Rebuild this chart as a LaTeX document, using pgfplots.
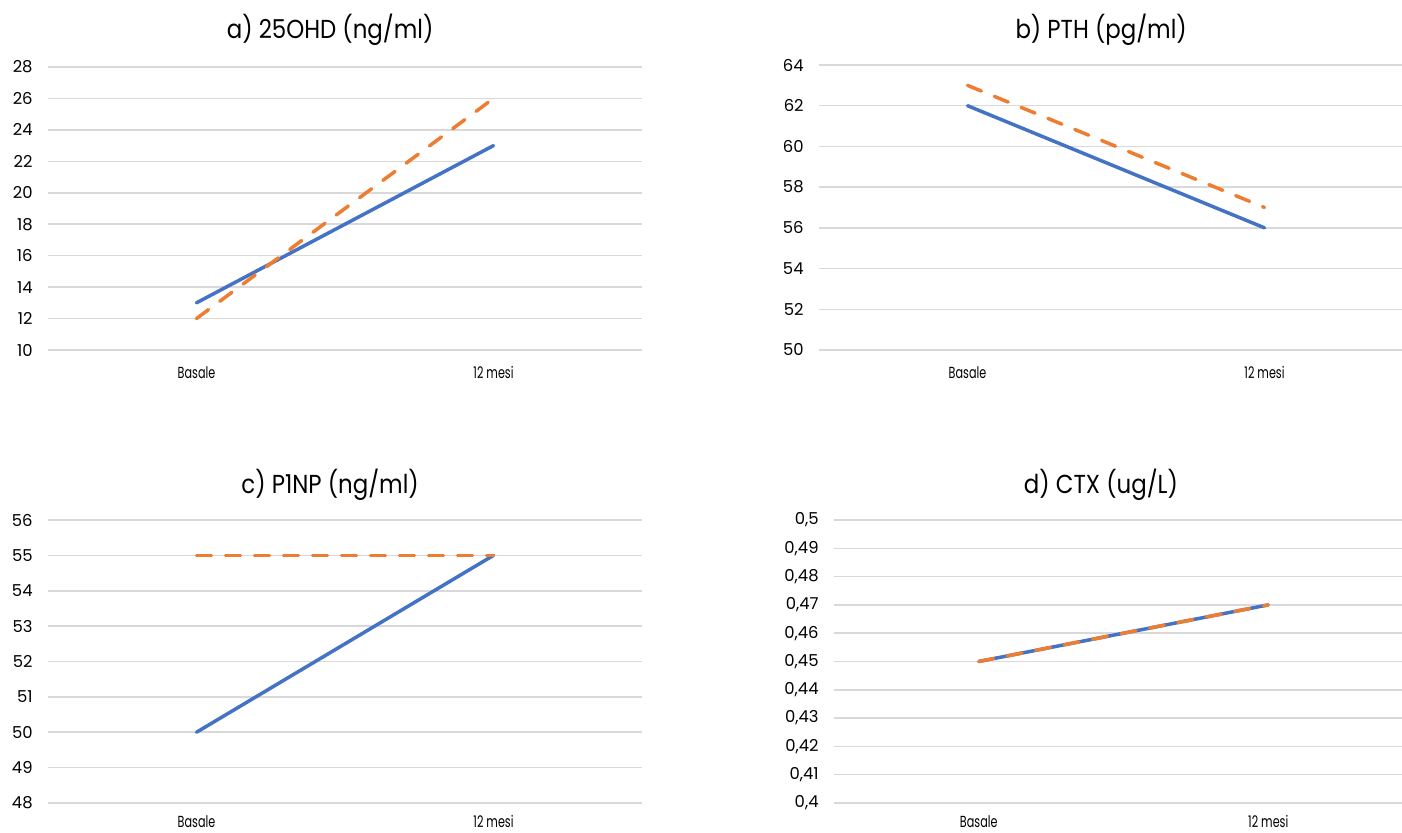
\documentclass[border=0pt]{standalone}
\usepackage{pgfplots}
\pgfplotsset{compat=1.18}
\usepackage{fontspec}
\setmainfont{Poppins}
\newfontfamily\titlefont[FakeStretch=0.88]{Poppins}
\newfontfamily\catfont[FakeStretch=0.7]{Poppins}
\definecolor{xlblue}{HTML}{4472C4}
\definecolor{xlorange}{HTML}{ED7D31}
\definecolor{xlgrid}{HTML}{D9D9D9}
\pgfplotsset{
  panel/.style={
    scale only axis,
    axis line style={draw=none},
    major tick length=0pt,
    tick style={draw=none},
    ymajorgrids,
    grid style={xlgrid, line width=0.75pt},
    xtick={0,1},
    xticklabels={Basale,12 mesi},
    xticklabel style={font=\catfont\fontsize{8}{9}\selectfont, inner sep=0pt, anchor=north},
    yticklabel style={font=\fontsize{8.2}{9}\selectfont, inner sep=0pt, anchor=east, xshift=-7.5pt},
    /pgf/number format/assume math mode=true,
    title style={font=\titlefont\fontsize{13}{15}\selectfont, anchor=center},
    clip=false,
  },
  blueline/.style={xlblue, line width=1.75pt, line cap=round, line join=round},
  orangeline/.style={xlorange, line width=1.75pt, line cap=round, dash pattern=on 7.5pt off 7pt},
}
\begin{document}
\begin{tikzpicture}
\useasboundingbox (0,0) rectangle (701pt,416.5pt);
% a)
\begin{axis}[panel, at={(24pt,241.5pt)}, anchor=south west,
  width=297pt, height=141.5pt, xmin=-0.5, xmax=1.5,
  ymin=10, ymax=28, ytick={10,12,...,28},
  xticklabel style={yshift=-8pt},
  title={a) 25OHD (ng/ml)}, title style={at={(0.475,1)}, yshift=12.5pt}]
\addplot[blueline] coordinates {(0,13) (1,23)};
\addplot[orangeline] coordinates {(0,12) (1,26)};
\end{axis}
% b)
\begin{axis}[panel, at={(409.5pt,241.5pt)}, anchor=south west,
  width=291.5pt, height=142.5pt, xmin=-0.5, xmax=1.463,
  ymin=50, ymax=64, ytick={50,52,...,64},
  xticklabel style={yshift=-8pt},
  title={b) PTH (pg/ml)}, title style={at={(0.484,1)}, yshift=11.5pt}]
\addplot[blueline] coordinates {(0,62) (1,56)};
\addplot[orangeline] coordinates {(0,63) (1,57)};
\end{axis}
% c)
\begin{axis}[panel, at={(24pt,15pt)}, anchor=south west,
  width=297pt, height=141.5pt, xmin=-0.5, xmax=1.5,
  ymin=48, ymax=56, ytick={48,49,...,56},
  xticklabel style={yshift=-6pt},
  title={c) P1NP (ng/ml)}, title style={at={(0.475,1)}, yshift=11.5pt}]
\addplot[blueline] coordinates {(0,50) (1,55)};
\addplot[orangeline] coordinates {(0,55) (1,55)};
\end{axis}
% d)
\begin{axis}[panel, at={(417pt,15pt)}, anchor=south west,
  width=284pt, height=141.5pt, xmin=-0.5, xmax=1.462,
  ymin=0.4, ymax=0.5, ytick={0.40,0.41,0.42,0.43,0.44,0.45,0.46,0.47,0.48,0.49,0.5},
  /pgf/number format/use comma,
  xticklabel style={yshift=-6pt},
  title={d) CTX (ug/L)}, title style={at={(0.470,1)}, yshift=11.5pt}]
\addplot[blueline] coordinates {(0,0.45) (1,0.47)};
\addplot[orangeline] coordinates {(0,0.45) (1,0.47)};
\end{axis}
\end{tikzpicture}
\end{document}
